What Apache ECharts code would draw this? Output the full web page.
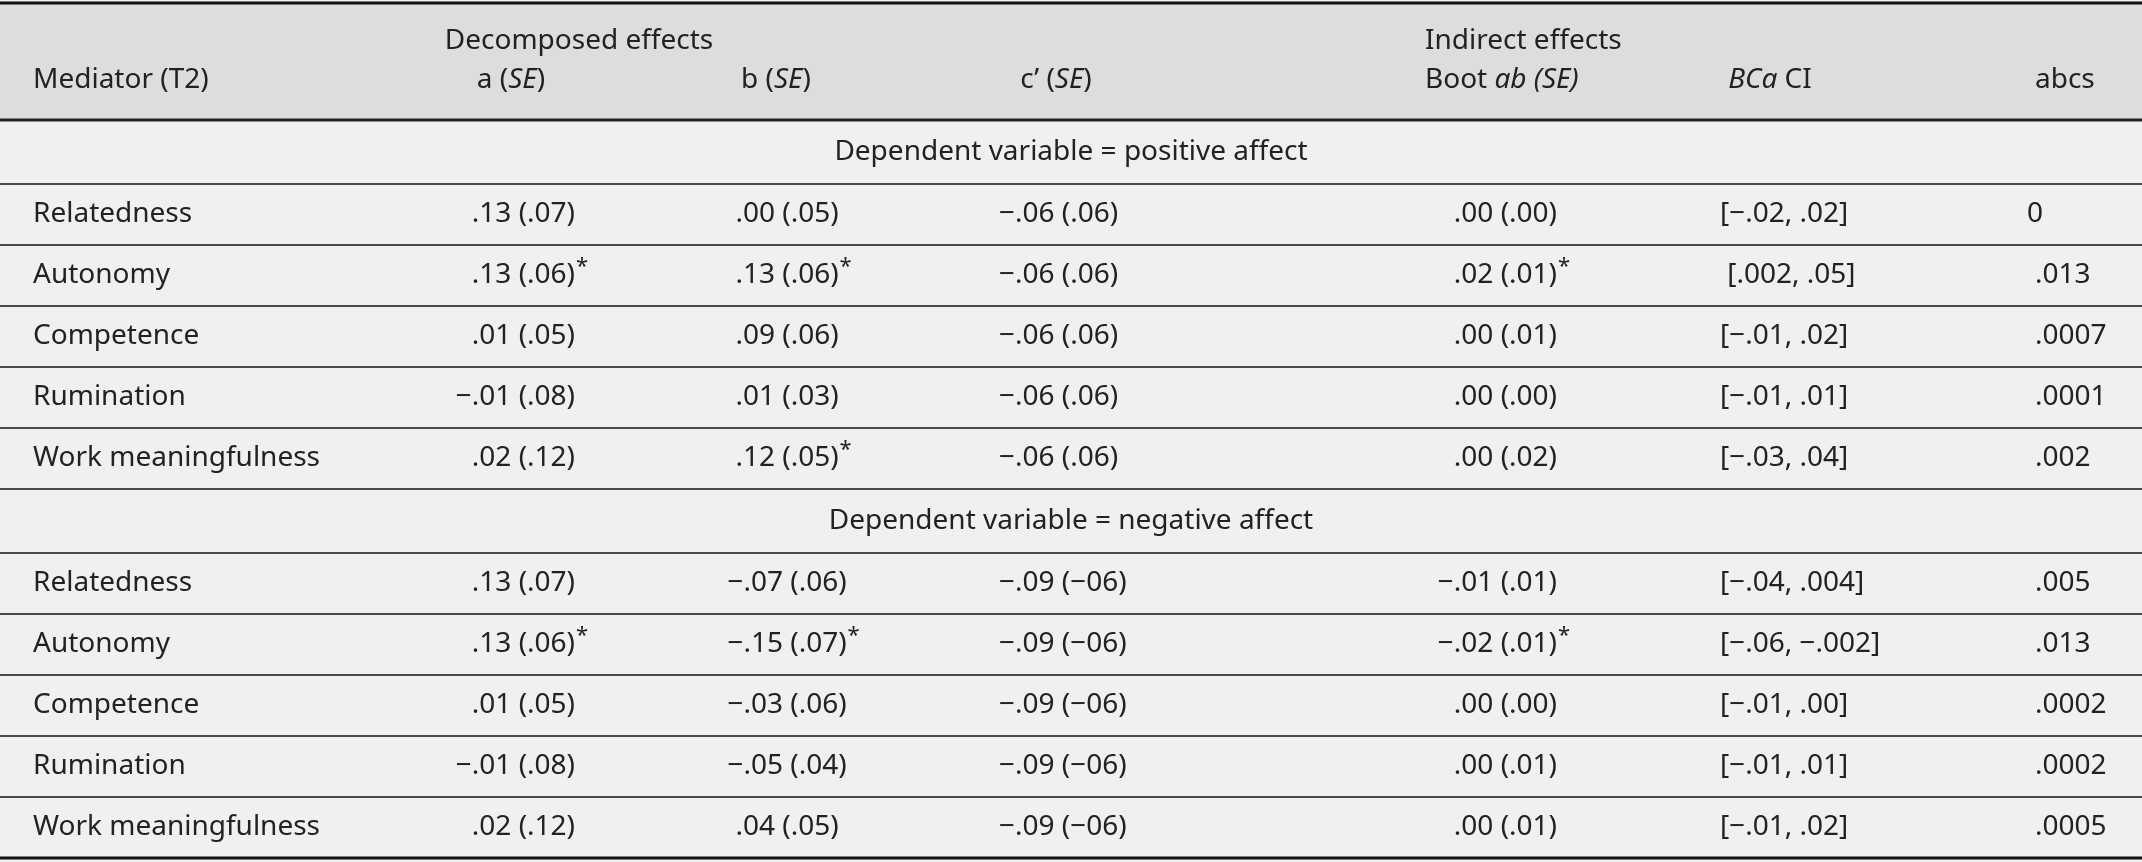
<!DOCTYPE html>
<html>
<head>
<meta charset="utf-8">
<script src="https://cdn.jsdelivr.net/npm/echarts@6/dist/echarts.min.js"></script>
<style>
  html, body { margin: 0; padding: 0; background: #eff0f2; }
  #table { width: 2142px; height: 862px; }
</style>
</head>
<body>
<div id="table"></div>
<script>
// table content
let groups = ['Dependent variable = positive affect', 'Dependent variable = negative affect'];
let mediators = ['Relatedness', 'Autonomy', 'Competence', 'Rumination', 'Work meaningfulness'];
let colA = [
    ['.13 (.07)', '.13 (.06)*', '.01 (.05)', '\u2212.01 (.08)', '.02 (.12)'],
    ['.13 (.07)', '.13 (.06)*', '.01 (.05)', '\u2212.01 (.08)', '.02 (.12)']
];
let colB = [
    ['.00 (.05)', '.13 (.06)*', '.09 (.06)', '.01 (.03)', '.12 (.05)*'],
    ['\u2212.07 (.06)', '\u2212.15 (.07)*', '\u2212.03 (.06)', '\u2212.05 (.04)', '.04 (.05)']
];
let colC = [
    ['\u2212.06 (.06)', '\u2212.06 (.06)', '\u2212.06 (.06)', '\u2212.06 (.06)', '\u2212.06 (.06)'],
    ['\u2212.09 (\u221206)', '\u2212.09 (\u221206)', '\u2212.09 (\u221206)', '\u2212.09 (\u221206)', '\u2212.09 (\u221206)']
];
let colBoot = [
    ['.00 (.00)', '.02 (.01)*', '.00 (.01)', '.00 (.00)', '.00 (.02)'],
    ['\u2212.01 (.01)', '\u2212.02 (.01)*', '.00 (.00)', '.00 (.01)', '.00 (.01)']
];
let colCI = [
    ['[\u2212.02, .02]', ' [.002, .05]', '[\u2212.01, .02]', '[\u2212.01, .01]', '[\u2212.03, .04]'],
    ['[\u2212.04, .004]', '[\u2212.06, \u2212.002]', '[\u2212.01, .00]', '[\u2212.01, .01]', '[\u2212.01, .02]']
];
let colAbcs = [
    ['0', '.013', '.0007', '.0001', '.002'],
    ['.005', '.013', '.0002', '.0002', '.0005']
];

let font = '"Noto Sans", sans-serif';
let fs = 28;
let ink = '#222';
let elements = [];

let ctx = document.createElement('canvas').getContext('2d');
ctx.font = fs + 'px ' + font;
function measure(s) { return ctx.measureText(s).width; }

function txt(s, x, y, align, italic) {
    elements.push({
        type: 'text', x: x, y: y,
        style: { text: s, fill: ink, font: (italic ? 'italic ' : '') + fs + 'px ' + font, textAlign: align, textVerticalAlign: 'middle' }
    });
}
// value with optional trailing star kept outside the alignment
function cell(s, x, y, align) {
    let star = s.endsWith('*');
    let body = star ? s.slice(0, -1) : s;
    txt(body, x, y, align);
    if (star) {
        let width = measure(body);
        let right = align === 'right' ? x : align === 'center' ? x + width / 2 : x + width;
        elements.push({
            type: 'text', x: right + 1, y: y - 9,
            style: { text: '*', fill: ink, font: '22px ' + font, textAlign: 'left', textVerticalAlign: 'middle' }
        });
    }
}
function rich(parts, x, y, align) {
    elements.push({
        type: 'text', x: x, y: y,
        style: {
            text: parts.map(p => p[1] ? '{i|' + p[0] + '}' : '{n|' + p[0] + '}').join(''),
            textAlign: align, textVerticalAlign: 'middle',
            rich: {
                n: { fill: ink, font: fs + 'px ' + font },
                i: { fill: ink, font: 'italic ' + fs + 'px ' + font }
            }
        }
    });
}
function hline(y, w, color) {
    elements.push({ type: 'line', shape: { x1: 0, y1: y, x2: 2142, y2: y }, style: { stroke: color, lineWidth: w } });
}

// header band
elements.push({ type: 'rect', shape: { x: 0, y: 3, width: 2142, height: 117 }, style: { fill: '#dcdddf' } });

txt('Mediator (T2)', 33, 80, 'left');
txt('Decomposed effects', 579, 41, 'center');
txt('Indirect effects', 1425, 41, 'left');
rich([['a (', 0], ['SE', 1], [')', 0]], 511, 80, 'center');
rich([['b (', 0], ['SE', 1], [')', 0]], 776, 80, 'center');
rich([['c\u2019 (', 0], ['SE', 1], [')', 0]], 1056, 80, 'center');
rich([['Boot ', 0], ['ab (SE)', 1]], 1425, 80, 'left');
rich([['BCa', 1], [' CI', 0]], 1770, 80, 'center');
txt('abcs', 2035, 80, 'left');

// body
let groupTop = [120, 489];
let rowH = 61;
groups.forEach(function(g, gi) {
    let top = groupTop[gi];
    txt(g, 1071, top + 32, 'center');
    hline(top + 64, 2, '#4a4a4a');
    mediators.forEach(function(m, ri) {
        let y = top + 64 + rowH * ri + rowH / 2;
        txt(m, 33, y, 'left');
        cell(colA[gi][ri], 575, y, 'right');
        cell(colB[gi][ri], 787, y, 'center');
        cell(colC[gi][ri], 999, y, 'left');
        cell(colBoot[gi][ri], 1557, y, 'right');
        txt(colCI[gi][ri], 1720, y, 'left');
        txt(colAbcs[gi][ri], colAbcs[gi][ri] === '0' ? 2027 : 2035, y, 'left');
        if (gi === 0 || ri < 4) hline(top + 64 + rowH * (ri + 1), 2, '#4a4a4a');
    });
});

hline(3, 3, '#111');
hline(120, 3, '#222');
hline(858, 3, '#111');

let chart = echarts.init(document.getElementById('table'));
chart.setOption({
    backgroundColor: '#eff0f2',
    animation: false,
    graphic: { elements: elements }
});
</script>
</body>
</html>
